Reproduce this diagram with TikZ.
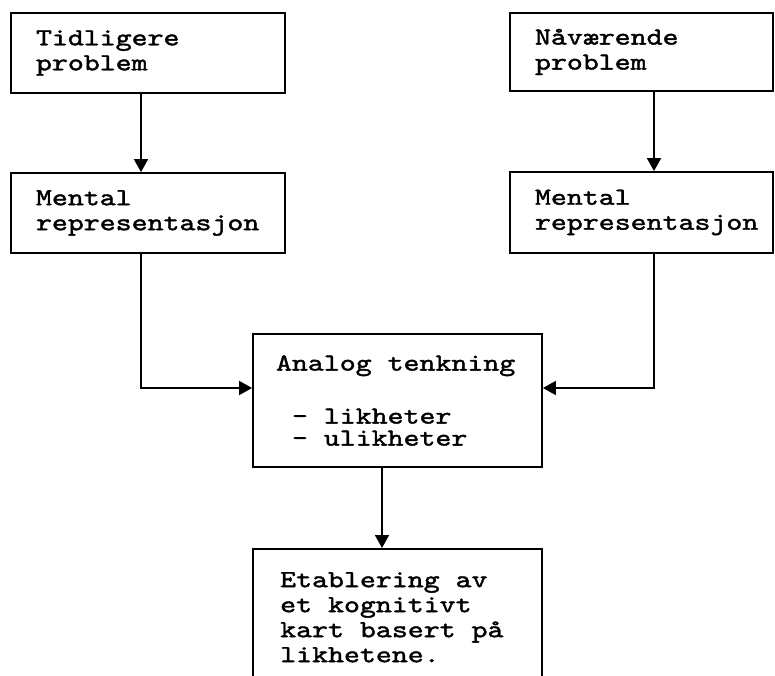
\documentclass[tikz,border=0pt]{standalone}
\usepackage{fontspec}
\newfontfamily\tw{lmmono10-regular.otf}[FakeStretch=1.24, FakeBold=1.6]
\newcommand\twfont{\tw\fontsize{24.5}{25}\selectfont\hyphenpenalty=10000\relax}
% one typewriter cell
\newcommand\gap{\hspace*{15.95pt}}
\usetikzlibrary{arrows.meta}
\tikzset{
  txt/.style={font=\twfont},
  box/.style={draw, line width=1.8pt, rectangle, inner xsep=25pt, inner ysep=0pt,
    txt, align=left, anchor=center},
  conn/.style={line width=1.8pt, -{Triangle[length=13pt,width=14pt]}},
}
\begin{document}
\begin{tikzpicture}[x=1pt,y=-1pt]
  \useasboundingbox (0,0) rectangle (775,675);
  \clip (0,0) rectangle (775,675);
  % upper row of boxes
  \node[box, minimum width=274pt, minimum height=80pt, text width=224pt] (tid) at (148,53) {Tidligere\\problem};
  \node[box, minimum width=263pt, minimum height=78pt, text width=213pt] (naa) at (641.5,52) {Nåværende\\problem};
  \node[box, minimum width=274pt, minimum height=80pt, text width=224pt] (ml) at (148,213) {Mental\\representasjon};
  \node[box, minimum width=263pt, minimum height=81pt, text width=213pt] (mr) at (641.5,212.5) {Mental\\representasjon};
  % comparison box
  \node[box, inner xsep=23pt, minimum width=289pt, minimum height=133pt, text width=243pt] (ana) at (397.5,400.5)
    {Analog\gap tenkning\\[28pt]\gap-\gap likheter\\[-3pt]\gap-\gap ulikheter};
  % result box, running off the lower edge
  \node[draw, line width=1.8pt, rectangle, minimum width=289pt, minimum height=160pt, anchor=north, inner sep=0pt] (eta) at (397.5,548) {};
  \node[txt, align=left, anchor=north west, inner sep=0pt, text width=250pt] (etat) at (280,572)
    {Etablering\gap av\\et\gap kognitivt\\kart\gap basert\gap på\\likhetene.};
  % connector columns
  \coordinate (c1) at (141,0);
  \coordinate (c2) at (654,0);
  \coordinate (c3) at (141,388);
  \coordinate (c4) at (654,388);
  \coordinate (c5) at (382,0);
  % connectors
  \draw[conn] (tid.south -| c1) -- (ml.north -| c1);
  \draw[conn] (naa.south -| c2) -- (mr.north -| c2);
  \draw[conn] (ml.south -| c3) -- (c3) -- (ana.west |- c3);
  \draw[conn] (mr.south -| c4) -- (c4) -- (ana.east |- c4);
  \draw[conn] (ana.south -| c5) -- (eta.north -| c5);
\end{tikzpicture}
\end{document}
